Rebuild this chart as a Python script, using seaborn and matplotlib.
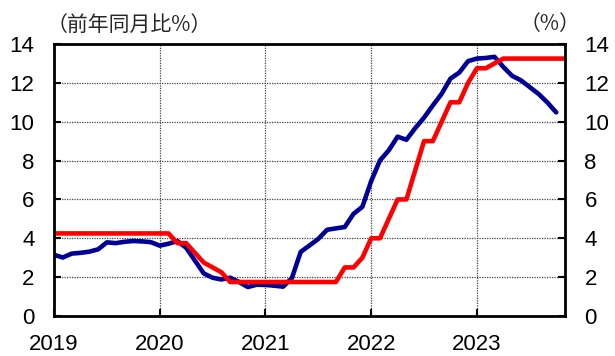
import matplotlib
matplotlib.use("Agg")
import matplotlib.pyplot as plt
import pandas as pd
import seaborn as sns

# Monthly series, Jan 2019 onward
cpi_yoy = [
    3.15, 3.01, 3.21, 3.25, 3.31, 3.43, 3.79, 3.75, 3.82, 3.86, 3.84, 3.80,   # 2019
    3.62, 3.72, 3.86, 3.51, 2.85, 2.19, 1.97, 1.88, 1.97, 1.75, 1.49, 1.61,   # 2020
    1.60, 1.56, 1.51, 1.95, 3.30, 3.63, 3.97, 4.44, 4.51, 4.58, 5.26, 5.62,   # 2021
    6.94, 8.01, 8.53, 9.23, 9.07, 9.67, 10.21, 10.84, 11.44, 12.22, 12.53, 13.12,  # 2022
    13.25, 13.28, 13.34, 12.82, 12.36, 12.13, 11.78, 11.43, 10.99, 10.48,      # 2023
]
policy_rate = [
    4.25, 4.25, 4.25, 4.25, 4.25, 4.25, 4.25, 4.25, 4.25, 4.25, 4.25, 4.25,   # 2019
    4.25, 4.25, 3.75, 3.75, 3.25, 2.75, 2.50, 2.25, 1.75, 1.75, 1.75, 1.75,   # 2020
    1.75, 1.75, 1.75, 1.75, 1.75, 1.75, 1.75, 1.75, 1.75, 2.50, 2.50, 3.00,   # 2021
    4.00, 4.00, 5.00, 6.00, 6.00, 7.50, 9.00, 9.00, 10.00, 11.00, 11.00, 12.00,  # 2022
    12.75, 12.75, 13.00, 13.25, 13.25, 13.25, 13.25, 13.25, 13.25, 13.25, 13.25,  # 2023
]
year_labels = ["2019", "2020", "2021", "2022", "2023"]
y_ticks = [0, 2, 4, 6, 8, 10, 12, 14]

cpi_df = pd.DataFrame({"month": range(len(cpi_yoy)), "value": cpi_yoy})
rate_df = pd.DataFrame({"month": range(len(policy_rate)), "value": policy_rate})

sns.set_style("white")
plt.rcParams["font.family"] = ["Liberation Sans", "DejaVu Sans"]

W, H = 615, 356
fig = plt.figure(figsize=(W / 100, H / 100), dpi=100)
ax = fig.add_axes([54 / W, (H - 316) / H, (565 - 54) / W, (316 - 44) / H])

sns.lineplot(data=cpi_df, x="month", y="value", color="#000096", lw=3.3,
             ax=ax, zorder=3)
sns.lineplot(data=rate_df, x="month", y="value", color="#ff0000", lw=3.3,
             ax=ax, zorder=4)

ax.set_xlim(0, len(policy_rate) - 1)
ax.set_ylim(0, 14)
ax.set_xlabel("")
ax.set_ylabel("")

ax.set_yticks(y_ticks)
ax.set_yticklabels([str(v) for v in y_ticks])
year_pos = [12 * i for i in range(len(year_labels))]
ax.set_xticks(year_pos)
ax.set_xticklabels(year_labels)

ax.tick_params(axis="y", which="both", direction="in", length=5, width=1.5,
               left=True, right=True, labelleft=True, labelright=True,
               pad=14, labelsize=16, colors="black")
ax.tick_params(axis="x", direction="in", length=5, width=1.5, bottom=True,
               pad=13, labelsize=16, colors="black")

ax.grid(True, color="#444444", linestyle=(0, (1, 1)), linewidth=0.9)
ax.set_axisbelow(True)
for side in ["left", "right", "top", "bottom"]:
    ax.spines[side].set_visible(True)
    ax.spines[side].set_color("black")
    ax.spines[side].set_linewidth(2)
    ax.spines[side].set_zorder(5)

cjk = ["Noto Sans CJK JP", "DejaVu Sans"]
fig.text(47 / W, 1 - 25 / H, "（前年同月比%）", ha="left", va="center",
         fontsize=15, family=cjk)
fig.text(580 / W, 1 - 24 / H, "（%）", ha="right", va="center",
         fontsize=15, family=cjk)

fig.savefig("out.png", dpi=100)
